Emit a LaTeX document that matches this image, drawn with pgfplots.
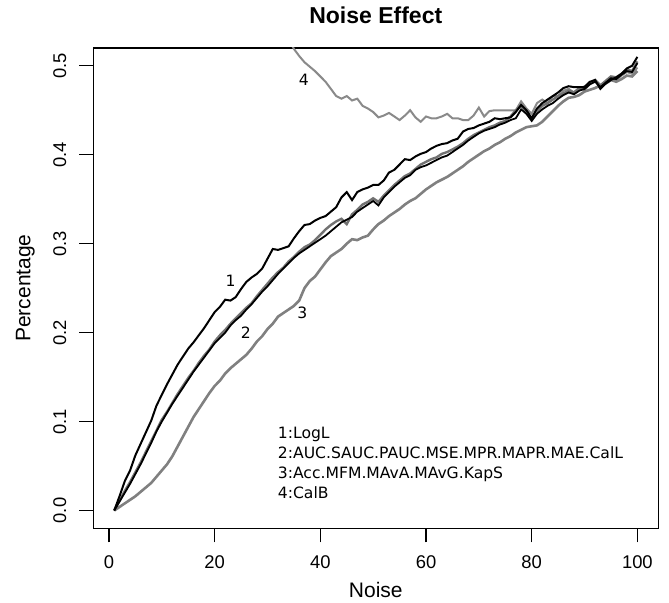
\documentclass[border=0pt]{standalone}
\usepackage{fontspec}
\setmainfont{Liberation Sans}
\newfontfamily\dejavu{DejaVu Sans}
\usepackage{pgfplots}
\pgfplotsset{compat=1.18}
\definecolor{grA}{HTML}{808080}
\definecolor{grB}{HTML}{727272}
\definecolor{grC}{HTML}{8A8A8A}

\begin{document}
\begin{tikzpicture}
\useasboundingbox (-46.65pt,-37.35pt) rectangle (287.85pt,264.15pt);
\begin{axis}[
  at={(0,0)}, anchor=south west,
  scale only axis, width=282.5pt, height=240.15pt,
  xmin=-2.96, xmax=103.96, ymin=-0.02, ymax=0.52,
  xtick={0,20,40,60,80,100}, ytick={0,0.1,0.2,0.3,0.4,0.5},
  xtick pos=left, ytick pos=left,
  tick align=outside, major tick length=7pt,
  tick style={black, line width=0.7pt},
  axis line style={black, line width=0.7pt},
  /pgf/number format/assume math mode=true,
  ticklabel style={font=\fontsize{9.2}{11}\selectfont},
  xticklabel style={anchor=center, yshift=-9.7pt},
  yticklabel style={anchor=center, xshift=-9.8pt, rotate=90,
    /pgf/number format/fixed, /pgf/number format/fixed zerofill,
    /pgf/number format/precision=1},
  every axis title shift=0pt,
  title={Noise Effect},
  title style={at={(axis description cs:0.5,1.0687)}, anchor=center,
    font=\bfseries\fontsize{11.5}{13}\selectfont},
  xlabel={Noise},
  xlabel style={at={(axis description cs:0.5,-0.1291)}, anchor=center,
    font=\fontsize{10.5}{12}\selectfont},
  ylabel={Percentage},
  ylabel style={at={(axis description cs:-0.1204,0.5)}, anchor=center,
    font=\fontsize{10.5}{12}\selectfont},
]
% 4: CalB
\addplot[grC, line width=1pt] coordinates {
(28,0.600) (30,0.578) (32,0.553) (34,0.530) (35,0.519) (36,0.511) (37,0.504)
(38,0.499) (39,0.494) (40,0.488) (41,0.482) (42,0.474) (43,0.466) (44,0.463)
(45,0.466) (46,0.461) (47,0.463) (48,0.455) (49,0.452) (50,0.448) (51,0.442)
(52,0.444) (53,0.447) (54,0.443) (55,0.439) (56,0.444) (57,0.450) (58,0.442)
(59,0.437) (60,0.443) (61,0.441) (62,0.441) (63,0.443) (64,0.446) (65,0.441)
(66,0.441) (67,0.439) (68,0.439) (69,0.444) (70,0.453) (71,0.443) (72,0.449)
(73,0.450) (74,0.450) (75,0.450) (76,0.450) (77,0.450) (78,0.460) (79,0.452)
(80,0.446) (81,0.458) (82,0.462) (83,0.458) (84,0.466) (85,0.466) (86,0.472)
(87,0.474) (88,0.470) (89,0.474) (90,0.477) (91,0.480) (92,0.483) (93,0.477)
(94,0.482) (95,0.487) (96,0.484) (97,0.489) (98,0.493) (99,0.491) (100,0.498)};
% 3: Acc.MFM.MAvA.MAvG.KapS
\addplot[grA, line width=1.3pt] coordinates {
(1,0) (2,0.004) (3,0.008) (4,0.012) (5,0.016) (6,0.021) (7,0.026) (8,0.031)
(9,0.038) (10,0.045) (11,0.052) (12,0.061) (13,0.072) (14,0.083) (15,0.094)
(16,0.105) (17,0.114) (18,0.123) (19,0.132) (20,0.140) (21,0.146) (22,0.154)
(23,0.160) (24,0.165) (25,0.170) (26,0.175) (27,0.182) (28,0.190) (29,0.196)
(30,0.204) (31,0.210) (32,0.218) (33,0.222) (34,0.226) (35,0.230) (36,0.236)
(37,0.250) (38,0.258) (39,0.263) (40,0.271) (41,0.279) (42,0.286) (43,0.290)
(44,0.294) (45,0.300) (46,0.305) (47,0.304) (48,0.307) (49,0.309) (50,0.316)
(51,0.322) (52,0.326) (53,0.331) (54,0.335) (55,0.339) (56,0.344) (57,0.348)
(58,0.351) (59,0.356) (60,0.361) (61,0.365) (62,0.369) (63,0.372) (64,0.375)
(65,0.379) (66,0.383) (67,0.387) (68,0.392) (69,0.396) (70,0.400) (71,0.404)
(72,0.407) (73,0.411) (74,0.414) (75,0.418) (76,0.421) (77,0.425) (78,0.428)
(79,0.431) (80,0.432) (81,0.433) (82,0.437) (83,0.443) (84,0.449) (85,0.455)
(86,0.460) (87,0.464) (88,0.465) (89,0.467) (90,0.471) (91,0.473) (92,0.475)
(93,0.478) (94,0.480) (95,0.484) (96,0.482) (97,0.485) (98,0.489) (99,0.488)
(100,0.494)};
% 2: AUC group, grey member
\addplot[grB, line width=1.2pt] coordinates {
(1,0) (2,0.011) (3,0.022) (4,0.032) (5,0.043) (6,0.054) (7,0.066) (8,0.078)
(9,0.090) (10,0.102) (11,0.111) (12,0.121) (13,0.131) (14,0.140) (15,0.149)
(16,0.157) (17,0.166) (18,0.174) (19,0.181) (20,0.190) (21,0.197) (22,0.203)
(23,0.210) (24,0.216) (25,0.222) (26,0.228) (27,0.233) (28,0.241) (29,0.248)
(30,0.255) (31,0.262) (32,0.268) (33,0.273) (34,0.280) (35,0.285) (36,0.291)
(37,0.296) (38,0.299) (39,0.304) (40,0.310) (41,0.316) (42,0.321) (43,0.325)
(44,0.328) (45,0.322) (46,0.333) (47,0.338) (48,0.344) (49,0.347) (50,0.351)
(51,0.347) (52,0.354) (53,0.360) (54,0.366) (55,0.371) (56,0.376) (57,0.379)
(58,0.384) (59,0.389) (60,0.392) (61,0.395) (62,0.397) (63,0.401) (64,0.403)
(65,0.406) (66,0.409) (67,0.413) (68,0.418) (69,0.422) (70,0.425) (71,0.428)
(72,0.431) (73,0.433) (74,0.436) (75,0.438) (76,0.443) (77,0.450) (78,0.455)
(79,0.448) (80,0.441) (81,0.449) (82,0.455) (83,0.458) (84,0.462) (85,0.466)
(86,0.469) (87,0.472) (88,0.470) (89,0.475) (90,0.473) (91,0.480) (92,0.484)
(93,0.478) (94,0.483) (95,0.488) (96,0.487) (97,0.491) (98,0.496) (99,0.494)
(100,0.505)};
% 2: AUC group, black member
\addplot[black, line width=0.9pt] coordinates {
(1,0) (2,0.010) (3,0.020) (4,0.030) (5,0.041) (6,0.052) (7,0.064) (8,0.076)
(9,0.089) (10,0.100) (11,0.110) (12,0.120) (13,0.129) (14,0.138) (15,0.147)
(16,0.156) (17,0.164) (18,0.172) (19,0.180) (20,0.188) (21,0.194) (22,0.200)
(23,0.208) (24,0.214) (25,0.219) (26,0.226) (27,0.232) (28,0.239) (29,0.246)
(30,0.252) (31,0.259) (32,0.266) (33,0.272) (34,0.278) (35,0.284) (36,0.289)
(37,0.293) (38,0.297) (39,0.301) (40,0.305) (41,0.309) (42,0.314) (43,0.319)
(44,0.324) (45,0.327) (46,0.330) (47,0.336) (48,0.340) (49,0.344) (50,0.348)
(51,0.343) (52,0.352) (53,0.358) (54,0.364) (55,0.369) (56,0.374) (57,0.377)
(58,0.383) (59,0.386) (60,0.388) (61,0.391) (62,0.394) (63,0.397) (64,0.399)
(65,0.403) (66,0.407) (67,0.411) (68,0.416) (69,0.420) (70,0.424) (71,0.427)
(72,0.429) (73,0.431) (74,0.434) (75,0.436) (76,0.439) (77,0.441) (78,0.451)
(79,0.446) (80,0.438) (81,0.446) (82,0.451) (83,0.455) (84,0.458) (85,0.463)
(86,0.467) (87,0.470) (88,0.468) (89,0.472) (90,0.474) (91,0.479) (92,0.482)
(93,0.476) (94,0.481) (95,0.486) (96,0.485) (97,0.490) (98,0.494) (99,0.493)
(100,0.503)};
% 1: LogL
\addplot[black, line width=1pt] coordinates {
(1,0) (2,0.016) (3,0.033) (4,0.045) (5,0.062) (6,0.075) (7,0.088) (8,0.101)
(9,0.118) (10,0.130) (11,0.142) (12,0.153) (13,0.164) (14,0.173) (15,0.182)
(16,0.189) (17,0.197) (18,0.205) (19,0.214) (20,0.223) (21,0.229) (22,0.237)
(23,0.236) (24,0.240) (25,0.249) (26,0.257) (27,0.262) (28,0.266) (29,0.272)
(30,0.283) (31,0.294) (32,0.293) (33,0.295) (34,0.297) (35,0.306) (36,0.314)
(37,0.321) (38,0.322) (39,0.326) (40,0.329) (41,0.331) (42,0.336) (43,0.341)
(44,0.352) (45,0.358) (46,0.349) (47,0.358) (48,0.361) (49,0.363) (50,0.366)
(51,0.366) (52,0.371) (53,0.380) (54,0.383) (55,0.389) (56,0.395) (57,0.394)
(58,0.398) (59,0.401) (60,0.403) (61,0.407) (62,0.410) (63,0.412) (64,0.413)
(65,0.416) (66,0.418) (67,0.426) (68,0.429) (69,0.430) (70,0.433) (71,0.435)
(72,0.437) (73,0.441) (74,0.440) (75,0.441) (76,0.442) (77,0.448) (78,0.456)
(79,0.450) (80,0.441) (81,0.452) (82,0.458) (83,0.462) (84,0.466) (85,0.470)
(86,0.475) (87,0.477) (88,0.476) (89,0.476) (90,0.476) (91,0.482) (92,0.484)
(93,0.474) (94,0.480) (95,0.484) (96,0.487) (97,0.491) (98,0.497) (99,0.500)
(100,0.510)};
% curve numbers
\node[font=\dejavu\fontsize{7.8}{9}\selectfont] at (axis cs:23,0.258) {1};
\node[font=\dejavu\fontsize{7.8}{9}\selectfont] at (axis cs:25.9,0.200) {2};
\node[font=\dejavu\fontsize{7.8}{9}\selectfont] at (axis cs:36.6,0.222) {3};
\node[font=\dejavu\fontsize{7.8}{9}\selectfont] at (axis cs:36.9,0.484) {4};
% key
\node[anchor=base west, inner sep=0pt, font=\dejavu\fontsize{7.8}{9}\selectfont] at (axis cs:31.9,0.0810) {1:LogL};
\node[anchor=base west, inner sep=0pt, font=\dejavu\fontsize{7.8}{9}\selectfont] at (axis cs:31.9,0.0584) {2:AUC.SAUC.PAUC.MSE.MPR.MAPR.MAE.CalL};
\node[anchor=base west, inner sep=0pt, font=\dejavu\fontsize{7.8}{9}\selectfont] at (axis cs:31.9,0.0358) {3:Acc.MFM.MAvA.MAvG.KapS};
\node[anchor=base west, inner sep=0pt, font=\dejavu\fontsize{7.8}{9}\selectfont] at (axis cs:31.9,0.0132) {4:CalB};
\end{axis}
\end{tikzpicture}
\end{document}
